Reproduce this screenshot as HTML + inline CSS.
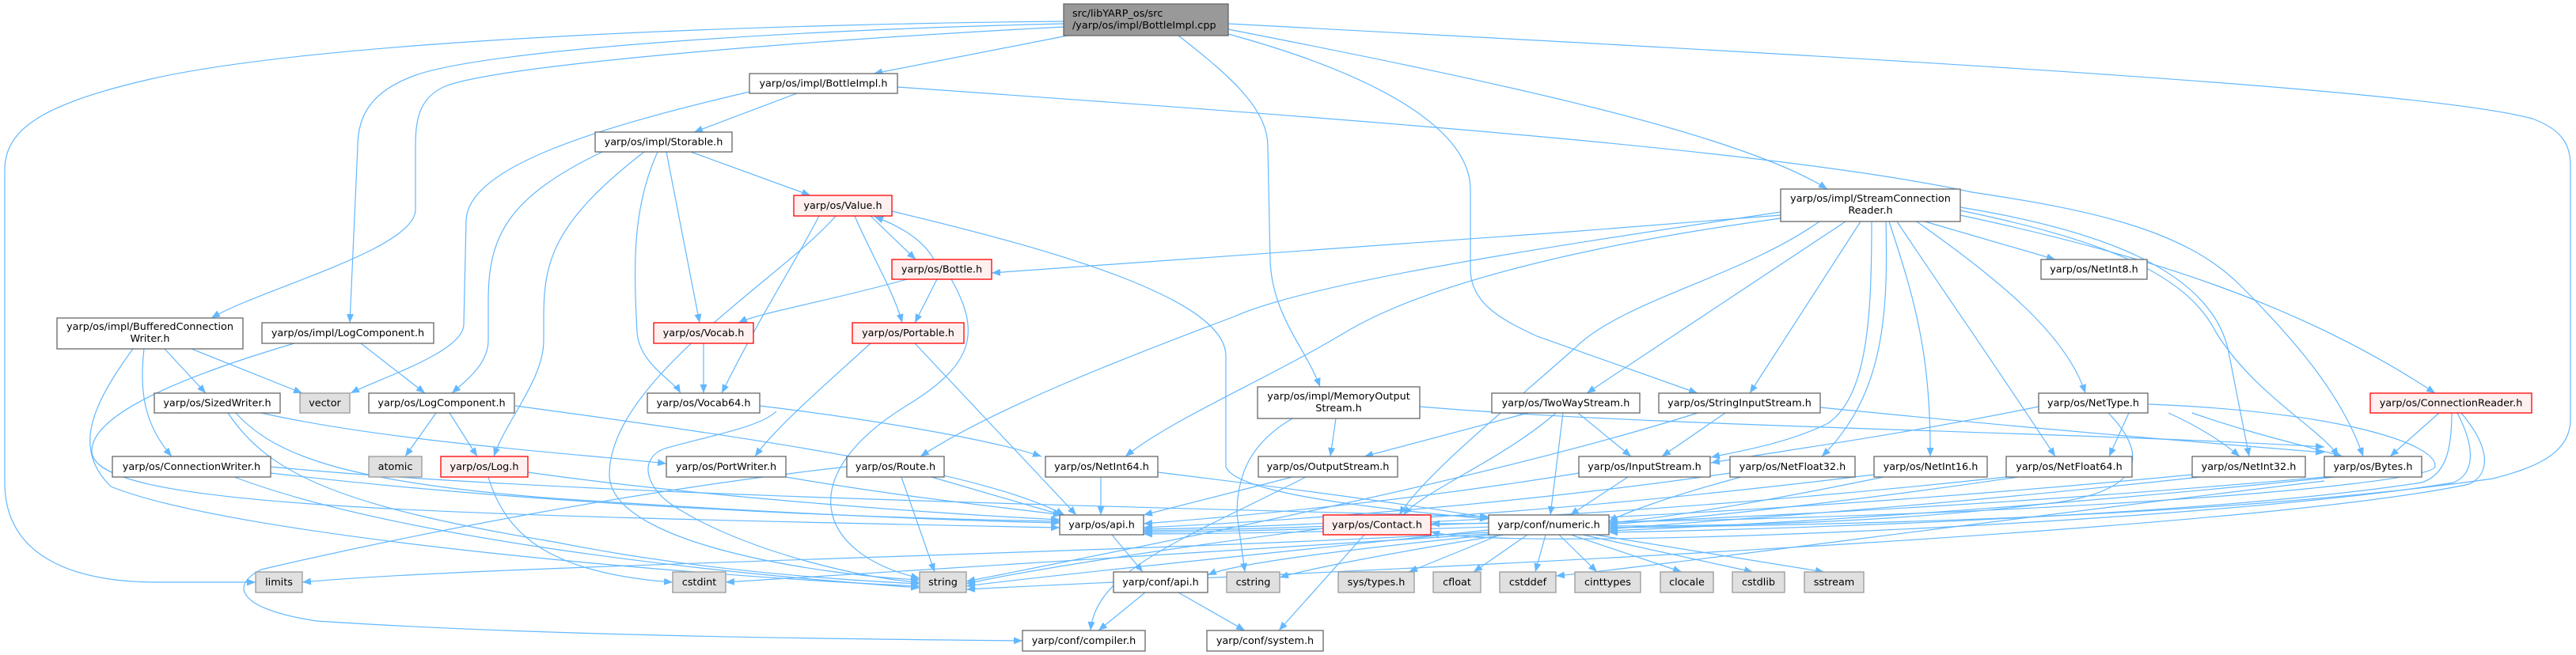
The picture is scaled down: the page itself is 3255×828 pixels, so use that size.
<!DOCTYPE html>
<html><head><meta charset="utf-8"><style>
html,body{margin:0;padding:0;background:#fff;width:3255px;height:828px;overflow:hidden}
svg{display:block}
.e{fill:none;stroke:#63B8FF;stroke-width:1.2;marker-end:url(#a)}
.n rect{fill:#fff;stroke:#666;stroke-width:1.3}
.r rect{fill:#FFF0F0;stroke:#FF0000;stroke-width:1.3}
.g rect{fill:#E0E0E0;stroke:#999;stroke-width:1.3}
.t rect{fill:#999;stroke:#666;stroke-width:1.3}
text{font-family:"DejaVu Sans","Liberation Sans",sans-serif;font-size:12.8px;fill:#000;text-anchor:middle}
.t text{text-anchor:start}
</style></head><body>
<svg width="3255" height="828" viewBox="0 0 3255 828" xmlns="http://www.w3.org/2000/svg">
<defs><marker id="a" viewBox="0 0 11 9" refX="11" refY="4.5" markerWidth="11" markerHeight="9" markerUnits="userSpaceOnUse" orient="auto"><path d="M0,0 L11,4.5 L0,9 Z" fill="#63B8FF"/></marker></defs>
<g>
<path class="e" d="M1344,27 C1000,30 420,48 190,100 C50,132 6,165 6,215 L6,610 C6,690 70,736 200,736 L323,736"/>
<path class="e" d="M1344,30 C1000,38 620,62 525,95 C470,115 452,145 452,185 L442,408"/>
<path class="e" d="M1344,34 C1000,52 640,82 565,108 C530,122 525,150 525,185 L525,265 C525,315 330,365 267,402"/>
<path class="e" d="M1349,45 L1104,93"/>
<path class="e" d="M1489,45 C1560,100 1602,140 1602,185 L1605,330 C1608,400 1650,440 1668,489"/>
<path class="e" d="M1552,37 C1900,105 2200,170 2309,239"/>
<path class="e" d="M1552,43 C1760,100 1858,170 1858,240 L1858,340 C1858,385 1900,405 1942,425 L2145,497"/>
<path class="e" d="M1552,30 C2300,70 3050,110 3200,150 C3240,165 3248,185 3248,210 L3248,530 C3248,575 3200,592 3150,605 C2800,655 2300,664 2033,667"/>
<path class="e" d="M1007,118 L877,167"/>
<path class="e" d="M947,116 C760,160 589,210 589,280 L586,410 C586,445 480,478 443,497"/>
<path class="e" d="M1134,110 C1700,150 2250,190 2492,243 C2640,265 2760,290 2830,360 C2900,430 2960,500 2986,577"/>
<path class="e" d="M873,192 L1024,247"/>
<path class="e" d="M842,192 L884,408"/>
<path class="e" d="M831,192 C800,260 800,330 805,420 C808,460 850,480 860,497"/>
<path class="e" d="M814,192 C700,280 687,330 687,400 L687,430 C687,480 640,530 624,577"/>
<path class="e" d="M761,192 C640,250 617,300 617,380 L617,430 C617,460 590,480 571,497"/>
<path class="e" d="M1100,273 L1157,328"/>
<path class="e" d="M1180,328 C1165,300 1130,283 1105,274"/>
<path class="e" d="M1035,273 C1000,340 960,400 912,497"/>
<path class="e" d="M1080,273 C1100,320 1130,370 1140,408"/>
<path class="e" d="M1127,267 C1350,320 1549,380 1549,450 L1549,590 C1560,620 1700,640 1881,656"/>
<path class="e" d="M1056,273 C990,350 770,480 770,600 C770,690 1050,728 1162,733"/>
<path class="e" d="M1146,353 C1050,380 960,395 933,408"/>
<path class="e" d="M1184,353 L1156,408"/>
<path class="e" d="M1202,353 C1240,420 1230,460 1150,510 C1000,600 1030,700 1162,731"/>
<path class="e" d="M1100,434 C1050,480 980,540 954,577"/>
<path class="e" d="M1156,434 L1360,651"/>
<path class="e" d="M889,434 L889,497"/>
<path class="e" d="M960,513 C1100,530 1250,555 1316,577"/>
<path class="e" d="M981,520 C960,540 900,550 840,567 C805,580 815,620 860,645 C950,700 1100,733 1162,736"/>
<path class="e" d="M330,522 C500,560 750,575 842,586"/>
<path class="e" d="M298,522 C350,580 450,610 700,630 C1000,650 1200,658 1339,661"/>
<path class="e" d="M288,522 C340,600 430,640 700,685 C900,725 1100,735 1162,738"/>
<path class="e" d="M208,441 L260,497"/>
<path class="e" d="M242,441 L382,497"/>
<path class="e" d="M182,441 C175,500 185,540 217,577"/>
<path class="e" d="M168,441 C110,520 95,570 140,615 C300,680 900,730 1162,741"/>
<path class="e" d="M456,434 L537,497"/>
<path class="e" d="M372,434 C250,470 116,520 116,570 C116,640 500,650 1339,667"/>
<path class="e" d="M551,522 L512,577"/>
<path class="e" d="M568,522 L603,577"/>
<path class="e" d="M651,513 C1000,560 1250,600 1345,651"/>
<path class="e" d="M342,598 C700,640 1100,655 1339,659"/>
<path class="e" d="M296,603 C500,680 900,725 1162,743"/>
<path class="e" d="M342,590 C700,625 1400,640 1881,653"/>
<path class="e" d="M617,603 C640,680 700,725 850,736"/>
<path class="e" d="M667,597 C900,630 1200,650 1339,657"/>
<path class="e" d="M993,603 C1150,630 1300,645 1342,651"/>
<path class="e" d="M1139,603 L1181,723"/>
<path class="e" d="M1177,603 L1342,651"/>
<path class="e" d="M1070,590 C800,620 500,680 330,720 C290,740 300,770 400,785 C700,805 1100,808 1292,810"/>
<path class="e" d="M1391,603 L1391,651"/>
<path class="e" d="M1463,597 C1650,620 1800,640 1881,655"/>
<path class="e" d="M1688,529 L1681,577"/>
<path class="e" d="M1633,529 C1580,560 1563,600 1563,650 L1573,723"/>
<path class="e" d="M1794,514 C2100,540 2600,545 2937,565"/>
<path class="e" d="M1633,603 L1445,651"/>
<path class="e" d="M1650,603 C1500,680 1385,720 1378,797"/>
<path class="e" d="M1931,522 L1724,577"/>
<path class="e" d="M1994,522 L2061,577"/>
<path class="e" d="M1966,522 C1900,580 1800,620 1773,651"/>
<path class="e" d="M1975,522 L1959,651"/>
<path class="e" d="M2180,522 L2100,577"/>
<path class="e" d="M2300,515 C2600,545 2850,565 2937,572"/>
<path class="e" d="M2145,522 C1900,600 1500,680 1221,735"/>
<path class="e" d="M1995,598 C1800,630 1600,650 1445,662"/>
<path class="e" d="M2057,603 L1984,651"/>
<path class="e" d="M2432,280 L2597,328"/>
<path class="e" d="M2250,272 C1900,300 1500,330 1253,345"/>
<path class="e" d="M2299,280 C2200,350 2050,380 1990,440 C1900,520 1800,600 1768,651"/>
<path class="e" d="M2332,280 L2005,497"/>
<path class="e" d="M2351,280 L2211,497"/>
<path class="e" d="M2365,280 C2365,400 2360,500 2310,535 C2260,560 2200,570 2162,578"/>
<path class="e" d="M2383,280 C2386,400 2380,500 2302,577"/>
<path class="e" d="M2387,280 C2420,380 2440,450 2439,577"/>
<path class="e" d="M2397,280 C2450,360 2500,430 2597,577"/>
<path class="e" d="M2422,280 C2520,350 2610,420 2635,497"/>
<path class="e" d="M2477,262 C2650,290 2790,340 2815,440 L2842,577"/>
<path class="e" d="M2477,266 C2640,300 2760,340 2800,420 C2850,500 2930,540 2955,577"/>
<path class="e" d="M2477,272 C2700,320 2900,380 3077,497"/>
<path class="e" d="M2250,268 C1900,320 1650,360 1560,400 C1400,460 1250,520 1163,577"/>
<path class="e" d="M2250,276 C2000,310 1800,360 1700,420 C1600,480 1480,530 1422,577"/>
<path class="e" d="M2576,514 C2400,550 2250,570 2162,585"/>
<path class="e" d="M2690,522 L2665,577"/>
<path class="e" d="M2740,522 C2780,540 2810,560 2830,577"/>
<path class="e" d="M2770,522 C2850,550 2920,565 2960,577"/>
<path class="e" d="M2664,522 C2720,580 2700,620 2600,635 C2400,660 2200,665 2033,665"/>
<path class="e" d="M2715,511 C2950,520 3080,560 3077,590 C3070,615 2500,660 1808,662"/>
<path class="e" d="M2200,603 C2100,630 2050,650 2033,659"/>
<path class="e" d="M2186,598 C1900,640 1600,660 1445,667"/>
<path class="e" d="M2380,603 C2200,640 2100,655 2033,661"/>
<path class="e" d="M2368,600 C2000,645 1700,665 1445,669"/>
<path class="e" d="M2550,603 C2300,640 2100,658 2033,663"/>
<path class="e" d="M2535,603 C2100,650 1700,668 1445,671"/>
<path class="e" d="M2780,603 C2400,645 2100,662 2033,669"/>
<path class="e" d="M2770,600 C2200,655 1700,670 1445,673"/>
<path class="e" d="M2950,603 C2500,650 2150,666 2033,671"/>
<path class="e" d="M2937,603 C2300,660 1700,674 1445,675"/>
<path class="e" d="M2937,608 C2500,660 2100,715 1966,728"/>
<path class="e" d="M3082,522 L3020,577"/>
<path class="e" d="M3098,522 C3098,570 3090,600 3060,610 C2800,650 2300,668 2033,673"/>
<path class="e" d="M3105,522 C3130,570 3125,600 3100,610 C2800,660 1900,700 1808,672"/>
<path class="e" d="M3110,522 C3150,570 3145,600 3120,612 C2800,680 1500,730 1221,745"/>
<path class="e" d="M1724,676 L1616,797"/>
<path class="e" d="M1672,668 C1500,690 1300,720 1221,738"/>
<path class="e" d="M1881,670 C1600,700 1300,730 1221,741"/>
<path class="e" d="M1881,673 C1400,700 600,715 382,736"/>
<path class="e" d="M1881,675 C1500,700 1100,725 917,736"/>
<path class="e" d="M1900,676 C1750,700 1650,720 1617,730"/>
<path class="e" d="M1893,677 L1780,723"/>
<path class="e" d="M1930,676 L1862,723"/>
<path class="e" d="M1953,676 L1940,723"/>
<path class="e" d="M1970,676 L2018,723"/>
<path class="e" d="M1985,676 L2125,723"/>
<path class="e" d="M2000,676 L2215,723"/>
<path class="e" d="M2015,676 L2305,723"/>
<path class="e" d="M1885,676 C1700,695 1560,712 1526,727"/>
<path class="e" d="M1405,676 L1444,723"/>
<path class="e" d="M1447,749 L1388,797"/>
<path class="e" d="M1489,749 L1573,797"/>
</g>

<g class="t"><rect x="1344" y="5" width="208" height="40"/><text x="1355" y="21">src/libYARP_os/src</text><text x="1355" y="36">/yarp/os/impl/BottleImpl.cpp</text></g>

<g class="n"><rect x="947" y="93" width="187" height="25"/><text x="1040.5" y="109.5">yarp/os/impl/BottleImpl.h</text></g>
<g class="n"><rect x="752" y="167" width="173" height="25"/><text x="838.5" y="183.5">yarp/os/impl/Storable.h</text></g>
<g class="r"><rect x="1003" y="247" width="124" height="26"/><text x="1065" y="264">yarp/os/Value.h</text></g>
<g class="n"><rect x="2250" y="239" width="227" height="41"/><text x="2363.5" y="255">yarp/os/impl/StreamConnection</text><text x="2363.5" y="270">Reader.h</text></g>
<g class="r"><rect x="1127" y="328" width="126" height="25"/><text x="1190" y="344.5">yarp/os/Bottle.h</text></g>
<g class="n"><rect x="2579" y="328" width="134" height="25"/><text x="2646" y="344.5">yarp/os/NetInt8.h</text></g>

<g class="n"><rect x="72" y="402" width="235" height="39"/><text x="189.5" y="417">yarp/os/impl/BufferedConnection</text><text x="189.5" y="432">Writer.h</text></g>
<g class="n"><rect x="331" y="408" width="217" height="26"/><text x="439.5" y="425">yarp/os/impl/LogComponent.h</text></g>
<g class="r"><rect x="826" y="408" width="126" height="26"/><text x="889" y="425">yarp/os/Vocab.h</text></g>
<g class="r"><rect x="1077" y="408" width="141" height="26"/><text x="1147.5" y="425">yarp/os/Portable.h</text></g>

<g class="n"><rect x="195" y="497" width="159" height="25"/><text x="274.5" y="513.5">yarp/os/SizedWriter.h</text></g>
<g class="g"><rect x="379" y="497" width="63" height="25"/><text x="410.5" y="513.5">vector</text></g>
<g class="n"><rect x="466" y="497" width="184" height="25"/><text x="558" y="513.5">yarp/os/LogComponent.h</text></g>
<g class="n"><rect x="818" y="497" width="142" height="25"/><text x="889" y="513.5">yarp/os/Vocab64.h</text></g>
<g class="n"><rect x="1589" y="489" width="205" height="40"/><text x="1691.5" y="505">yarp/os/impl/MemoryOutput</text><text x="1691.5" y="520">Stream.h</text></g>
<g class="n"><rect x="1885" y="497" width="187" height="25"/><text x="1978.5" y="513.5">yarp/os/TwoWayStream.h</text></g>
<g class="n"><rect x="2096" y="497" width="204" height="25"/><text x="2198" y="513.5">yarp/os/StringInputStream.h</text></g>
<g class="n"><rect x="2576" y="497" width="138" height="25"/><text x="2645" y="513.5">yarp/os/NetType.h</text></g>
<g class="r"><rect x="2995" y="497" width="204" height="25"/><text x="3097" y="513.5">yarp/os/ConnectionReader.h</text></g>

<g class="n"><rect x="142" y="577" width="200" height="26"/><text x="242" y="594">yarp/os/ConnectionWriter.h</text></g>
<g class="g"><rect x="466" y="577" width="67" height="26"/><text x="499.5" y="594">atomic</text></g>
<g class="r"><rect x="557" y="577" width="110" height="26"/><text x="612" y="594">yarp/os/Log.h</text></g>
<g class="n"><rect x="842" y="577" width="151" height="26"/><text x="917.5" y="594">yarp/os/PortWriter.h</text></g>
<g class="n"><rect x="1070" y="577" width="123" height="26"/><text x="1131.5" y="594">yarp/os/Route.h</text></g>
<g class="n"><rect x="1321" y="577" width="142" height="26"/><text x="1392" y="594">yarp/os/NetInt64.h</text></g>
<g class="n"><rect x="1590" y="577" width="176" height="26"/><text x="1678" y="594">yarp/os/OutputStream.h</text></g>
<g class="n"><rect x="1995" y="577" width="166" height="26"/><text x="2078" y="594">yarp/os/InputStream.h</text></g>
<g class="n"><rect x="2186" y="577" width="158" height="26"/><text x="2265" y="594">yarp/os/NetFloat32.h</text></g>
<g class="n"><rect x="2368" y="577" width="143" height="26"/><text x="2439.5" y="594">yarp/os/NetInt16.h</text></g>
<g class="n"><rect x="2535" y="577" width="159" height="26"/><text x="2614.5" y="594">yarp/os/NetFloat64.h</text></g>
<g class="n"><rect x="2770" y="577" width="143" height="26"/><text x="2841.5" y="594">yarp/os/NetInt32.h</text></g>
<g class="n"><rect x="2937" y="577" width="123" height="26"/><text x="2998.5" y="594">yarp/os/Bytes.h</text></g>

<g class="n"><rect x="1339" y="651" width="106" height="25"/><text x="1392" y="667.5">yarp/os/api.h</text></g>
<g class="r"><rect x="1672" y="651" width="136" height="25"/><text x="1740" y="667.5">yarp/os/Contact.h</text></g>
<g class="n"><rect x="1881" y="651" width="152" height="25"/><text x="1957" y="667.5">yarp/conf/numeric.h</text></g>

<g class="g"><rect x="323" y="723" width="59" height="26"/><text x="352.5" y="740">limits</text></g>
<g class="g"><rect x="850" y="723" width="67" height="26"/><text x="883.5" y="740">cstdint</text></g>
<g class="g"><rect x="1162" y="723" width="59" height="26"/><text x="1191.5" y="740">string</text></g>
<g class="n"><rect x="1407" y="723" width="119" height="26"/><text x="1466.5" y="740">yarp/conf/api.h</text></g>
<g class="g"><rect x="1550" y="723" width="67" height="26"/><text x="1583.5" y="740">cstring</text></g>
<g class="g"><rect x="1691" y="723" width="96" height="26"/><text x="1739" y="740">sys/types.h</text></g>
<g class="g"><rect x="1811" y="723" width="60" height="26"/><text x="1841" y="740">cfloat</text></g>
<g class="g"><rect x="1895" y="723" width="71" height="26"/><text x="1930.5" y="740">cstddef</text></g>
<g class="g"><rect x="1990" y="723" width="83" height="26"/><text x="2031.5" y="740">cinttypes</text></g>
<g class="g"><rect x="2098" y="723" width="67" height="26"/><text x="2131.5" y="740">clocale</text></g>
<g class="g"><rect x="2189" y="723" width="66" height="26"/><text x="2222" y="740">cstdlib</text></g>
<g class="g"><rect x="2280" y="723" width="75" height="26"/><text x="2317.5" y="740">sstream</text></g>

<g class="n"><rect x="1292" y="797" width="155" height="26"/><text x="1369.5" y="814">yarp/conf/compiler.h</text></g>
<g class="n"><rect x="1525" y="797" width="147" height="26"/><text x="1598.5" y="814">yarp/conf/system.h</text></g>
</svg>
</body></html>
